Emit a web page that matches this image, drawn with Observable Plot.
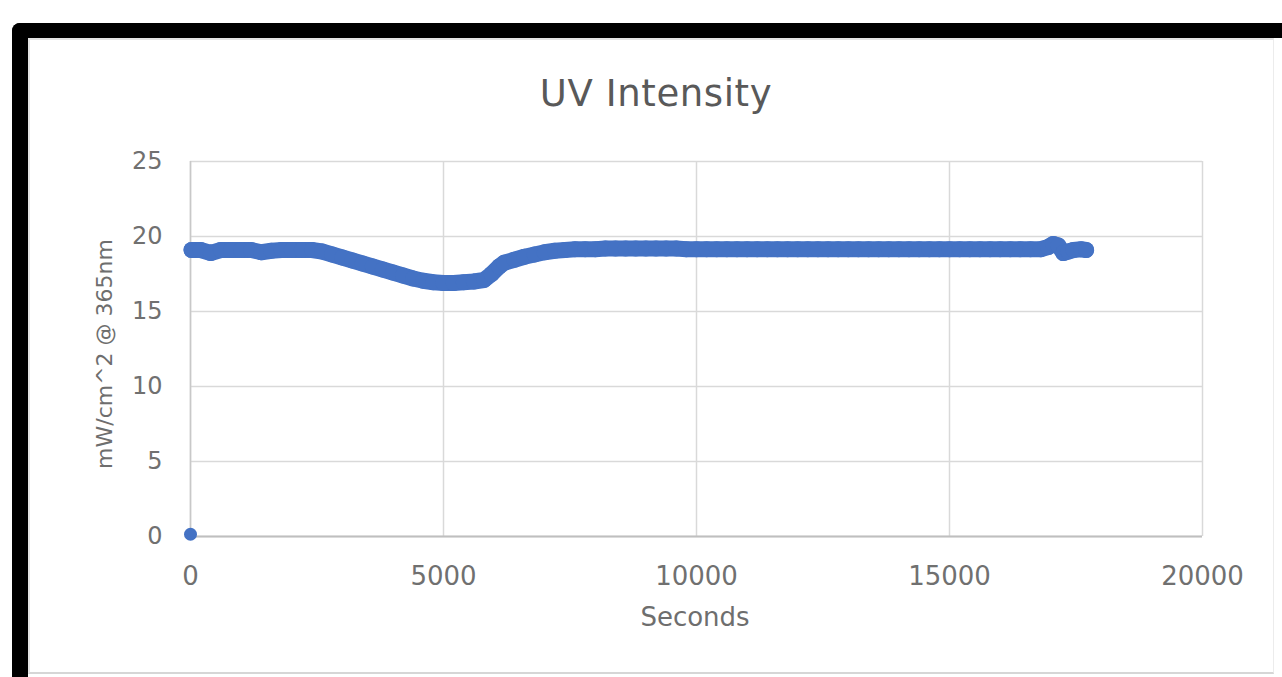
<!DOCTYPE html>
<html>
<head>
<meta charset="utf-8">
<script src="https://cdn.jsdelivr.net/npm/d3@7"></script>
<script src="https://cdn.jsdelivr.net/npm/@observablehq/plot@0.6"></script>
<style>
  html, body { margin: 0; padding: 0; background: #fff; width: 1282px; height: 677px; overflow: hidden; }
  #frame { position: absolute; left: 12px; top: 23px; width: 1300px; height: 680px;
           border-left: 16px solid #000; border-top: 15px solid #000; border-top-left-radius: 8px;
           background: #fff; box-sizing: border-box; }
  #inner { position: absolute; left: 28px; top: 38px; width: 1246px; height: 636px;
           border-left: 2px solid #e4e4e4; border-top: 2px solid #e4e4e4; border-bottom: 2px solid #d6d6d6; border-right: 1px solid #ececec; box-sizing: border-box; }
  #chart { position: absolute; left: 0; top: 0; }
  .txt { position: absolute; font-family: "DejaVu Sans", sans-serif; color: #595959; white-space: nowrap; }
  #title { left: 456px; width: 400px; top: 73px; text-align: center; font-size: 37px; line-height: 42px; letter-spacing: 0.6px; }
  #xlabel { left: 545px; width: 300px; top: 601px; text-align: center; font-size: 26px; line-height: 32px; color: #6e6e6e; }
  #ylabel { left: -45px; width: 300px; top: 340px; text-align: center; font-size: 22px; line-height: 28px; color: #6e6e6e; transform: rotate(-90deg); }
</style>
</head>
<body>
<div id="frame"></div>
<div id="inner"></div>
<div id="chart"></div>
<div class="txt" id="title">UV Intensity</div>
<div class="txt" id="xlabel">Seconds</div>
<div class="txt" id="ylabel">mW/cm^2 @ 365nm</div>
<script>
const xTicks = [0, 5000, 10000, 15000, 20000];
const yTicks = [0, 5, 10, 15, 20, 25];

const seconds = [0, 20, 200, 400, 600, 800, 1000, 1200, 1400, 1600, 1800, 2000, 2200, 2400, 2600,
  2800, 3000, 3200, 3400, 3600, 3800, 4000, 4200, 4400, 4600, 4800, 5000, 5200, 5400, 5600, 5800,
  5950, 6100, 6200, 6400, 6600, 6800, 7000, 7200, 7400, 7600, 7800, 8000, 8200, 8400, 8600, 8800,
  9000, 9200, 9400, 9600, 9800, 10000, 10200, 10400, 10600, 10800, 11000, 11200, 11400, 11600,
  11800, 12000, 12200, 12400, 12600, 12800, 13000, 13200, 13400, 13600, 13800, 14000, 14200,
  14400, 14600, 14800, 15000, 15200, 15400, 15600, 15800, 16000, 16200, 16400, 16600, 16800,
  16950, 17050, 17150, 17250, 17350, 17450, 17600, 17700];
const intensity = [0.15, 19.1, 19.1, 18.9, 19.1, 19.1, 19.1, 19.1, 18.95, 19.05, 19.1, 19.1, 19.1, 19.1, 19.0,
  18.8, 18.6, 18.4, 18.2, 18.0, 17.8, 17.6, 17.4, 17.2, 17.05, 16.95, 16.9, 16.9, 16.95, 17.0, 17.1,
  17.5, 18.0, 18.25, 18.45, 18.65, 18.8, 18.95, 19.05, 19.1, 19.15, 19.15, 19.15, 19.2, 19.2, 19.2, 19.2,
  19.2, 19.2, 19.2, 19.2, 19.15, 19.15, 19.15, 19.15, 19.15, 19.15, 19.15, 19.15, 19.15, 19.15,
  19.15, 19.15, 19.15, 19.15, 19.15, 19.15, 19.15, 19.15, 19.15, 19.15, 19.15, 19.15, 19.15,
  19.15, 19.15, 19.15, 19.15, 19.15, 19.15, 19.15, 19.15, 19.15, 19.15, 19.15, 19.15, 19.15,
  19.3, 19.5, 19.4, 18.9, 19.0, 19.1, 19.15, 19.1];

const data = seconds.map((s, i) => ({s, v: intensity[i]}));
const first = data.slice(0, 1);
const band = data.slice(1);

const chart = Plot.plot({
  width: 1282,
  height: 677,
  marginLeft: 190,
  marginRight: 80,
  marginTop: 161,
  marginBottom: 141,
  style: { background: "transparent", fontFamily: "DejaVu Sans, sans-serif", fontSize: "26px", color: "#707070" },
  x: { domain: [0, 20000] },
  y: { domain: [0, 25] },
  marks: [
    Plot.gridX(xTicks, { stroke: "#d9d9d9", strokeOpacity: 1, strokeWidth: 1.5 }),
    Plot.gridY(yTicks, { stroke: "#d9d9d9", strokeOpacity: 1, strokeWidth: 1.5 }),
    Plot.ruleY([0], { stroke: "#bfbfbf", strokeWidth: 2 }),
    Plot.ruleX([0], { stroke: "#c8c8c8", strokeWidth: 1.5 }),
    Plot.axisX(xTicks, { tickSize: 0, tickPadding: 30, tickFormat: d => String(d), label: null, fontSize: 26 }),
    Plot.axisY(yTicks, { tickSize: 0, tickPadding: 28, tickFormat: d => String(d), label: null, fontSize: 24 }),
    Plot.line(band, { x: "s", y: "v", stroke: "#4472C4", strokeWidth: 16, strokeLinejoin: "round", strokeLinecap: "round" }),
    Plot.dot(band, { x: "s", y: "v", r: 8, fill: "#4472C4", stroke: "none" }),
    Plot.dot(first, { x: "s", y: "v", r: 6.5, fill: "#4472C4", stroke: "none" })
  ]
});
document.getElementById("chart").appendChild(chart);
</script>
</body>
</html>
